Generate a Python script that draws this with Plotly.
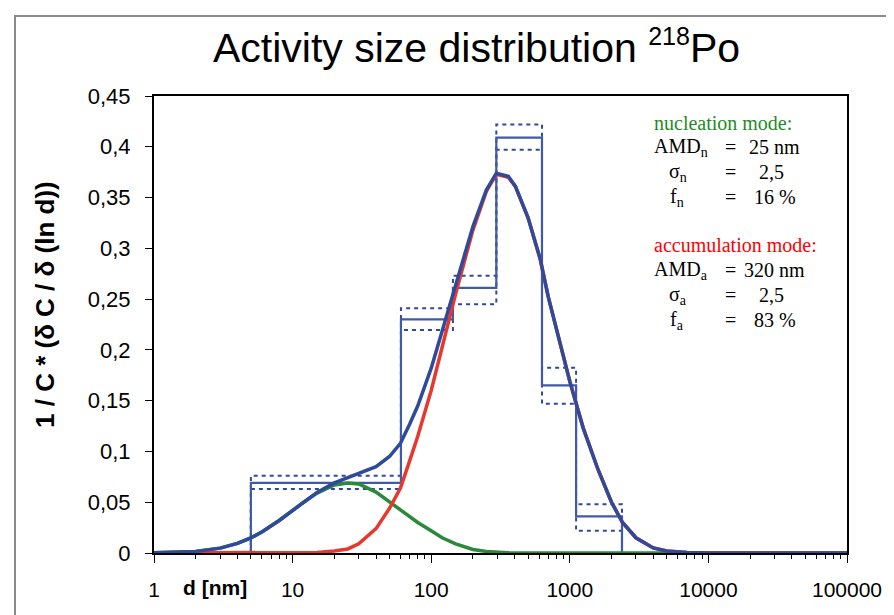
import plotly.graph_objects as go

# ---- data ----
d_nm = [1, 1.5, 2, 3, 4, 5, 6, 8, 10, 12,
        15, 20, 25, 30, 40, 50, 60, 70, 80, 100,
        120, 150, 180, 200, 250, 295, 360, 405, 500, 610,
        700, 850, 1000, 1250, 1600, 2000, 2400, 3000, 4000, 5000,
        7000, 10000, 100000]

nucleation = [0.0002, 0.0006, 0.0016, 0.0048, 0.0094, 0.0149, 0.0207, 0.032, 0.042, 0.050,
              0.059, 0.067, 0.069, 0.068, 0.060, 0.050, 0.042, 0.036, 0.030, 0.022,
              0.015, 0.009, 0.005, 0.0035, 0.0015, 0.0007, 0.0002, 0.0001, 0, 0,
              0, 0, 0, 0, 0, 0, 0, 0, 0, 0,
              0, 0, 0]

accumulation = [0, 0, 0, 0, 0, 0, 0, 0, 0.0001, 0.0002,
                0.0006, 0.002, 0.004, 0.009, 0.024, 0.044, 0.064, 0.091, 0.115, 0.160,
                0.203, 0.255, 0.295, 0.318, 0.356, 0.373, 0.370, 0.361, 0.330, 0.290,
                0.252, 0.205, 0.169, 0.123, 0.082, 0.050, 0.030, 0.015, 0.005, 0.002,
                0.0005, 0, 0]

total = [0.0002, 0.0006, 0.0016, 0.0048, 0.0094, 0.0149, 0.0207, 0.032, 0.0421, 0.0502,
         0.0596, 0.069, 0.074, 0.078, 0.085, 0.095, 0.108, 0.127, 0.145, 0.182,
         0.218, 0.264, 0.300, 0.3215, 0.3575, 0.374, 0.371, 0.361, 0.330, 0.290,
         0.252, 0.205, 0.169, 0.123, 0.082, 0.050, 0.030, 0.015, 0.005, 0.002,
         0.0005, 0, 0]

bin_edges = [5, 60.5, 143.5, 295, 630, 1110, 2380]
hist_value = [0.069, 0.230, 0.261, 0.409, 0.165, 0.036]
hist_upper = [0.076, 0.241, 0.273, 0.422, 0.1825, 0.048]
hist_lower = [0.063, 0.2195, 0.245, 0.397, 0.147, 0.022]

x_tickvals = [1, 10, 100, 1000, 10000, 100000]
x_ticktext = ["1", "10", "100", "1000", "10000", "100000"]

BLUE = "#2f4a9a"
BLUE_H = "#3f5aa6"
RED = "#e5392f"
GREEN = "#2b8a3a"


def step_xy(edges, vals):
    xs = [edges[0]] + list(edges[:-1]) + [edges[-1], edges[-1]]
    ys = [0] + list(vals) + [vals[-1], 0]
    return xs, ys


fig = go.Figure()

# histogram: error bounds (dotted) and measured value (solid)
for vals in (hist_upper, hist_lower):
    xs, ys = step_xy(bin_edges, vals)
    fig.add_trace(go.Scatter(x=xs, y=ys, mode="lines", line_shape="hv",
                             line=dict(color=BLUE, width=2, dash="4px,4px"),
                             showlegend=False, hoverinfo="skip"))
xs, ys = step_xy(bin_edges, hist_value)
fig.add_trace(go.Scatter(x=xs, y=ys, mode="lines", line_shape="hv",
                         line=dict(color=BLUE_H, width=2.2),
                         showlegend=False, hoverinfo="skip"))

# fitted modes
fig.add_trace(go.Scatter(x=d_nm, y=nucleation, mode="lines",
                         line=dict(color=GREEN, width=3.5), showlegend=False))
fig.add_trace(go.Scatter(x=d_nm, y=accumulation, mode="lines",
                         line=dict(color=RED, width=3.5), showlegend=False))
fig.add_trace(go.Scatter(x=d_nm, y=total, mode="lines",
                         line=dict(color=BLUE, width=3.5), showlegend=False))

# page has an 8px body margin -> figure is offset by OFF px
OFF = 8
W, H = 886, 607
L, R, T, B = 146, 47, 88, 62
pw, ph = W - L - R, H - T - B


def px(xr):
    return (xr - OFF - L) / pw


def py(yr):
    return (H - B - (yr - OFF)) / ph


SANS = "Liberation Sans, Arial, sans-serif"
fig.update_layout(
    width=W, height=H,
    margin=dict(l=L, r=R, t=T, b=B),
    paper_bgcolor="white", plot_bgcolor="white",
    separators=", ",
    font=dict(family=SANS, color="black"),
    showlegend=False,
)

fig.update_xaxes(
    type="log", range=[0, 5],
    tickvals=x_tickvals, ticktext=x_ticktext,
    ticks="outside", ticklen=8, tickwidth=1, tickcolor="black",
    tickfont=dict(size=21, family=SANS),
    ticklabelstandoff=9,
    minor=dict(ticks="outside", ticklen=4, tickwidth=1, tickcolor="black", dtick="D1", showgrid=False),
    showline=True, linecolor="black", linewidth=2, mirror=True,
    showgrid=False, zeroline=False,
)
fig.update_yaxes(
    range=[0, 0.45], dtick=0.05, tick0=0,
    ticks="outside", ticklen=7, tickwidth=1, tickcolor="black",
    tickfont=dict(size=22, family=SANS),
    ticklabelstandoff=10,
    showline=True, linecolor="black", linewidth=2, mirror=True,
    showgrid=False, zeroline=False,
)

ann = []
# title
ann.append(dict(text="Activity size distribution <sup><span style='font-size:25px'>218</span></sup>Po",
                x=px(476), y=py(46),
                xref="paper", yref="paper", xanchor="center", yanchor="middle",
                showarrow=False, font=dict(size=41, family=SANS)))
# y title
ann.append(dict(text="<b>1 / C * (δ C / δ (ln d))</b>", x=px(45), y=py(305),
                xref="paper", yref="paper", xanchor="center", yanchor="middle", textangle=-90,
                showarrow=False, font=dict(size=26, family=SANS)))
# x title
ann.append(dict(text="<b>d [nm]</b>", x=px(215), y=py(587),
                xref="paper", yref="paper", xanchor="center", yanchor="middle",
                showarrow=False, font=dict(size=21, family=SANS)))

serif = "Liberation Serif, Times New Roman, serif"
rows = [
    (123, "nucleation mode:", None, None, "#1f8a1f", 652, None),
    (147, "AMD<sub>n</sub>", "=", "25 nm", "black", 652, 747),
    (172, "σ<sub>n</sub>", "=", "2,5", "black", 667, 757),
    (197, "f<sub>n</sub>", "=", "16 %", "black", 668, 752),
    (245, "accumulation mode:", None, None, "#ff0000", 652, None),
    (270, "AMD<sub>a</sub>", "=", "320 nm", "black", 652, 742),
    (295, "σ<sub>a</sub>", "=", "2,5", "black", 667, 757),
    (320, "f<sub>a</sub>", "=", "83 %", "black", 668, 752),
]
for yy, lab, eq, val, col, xl, xv in rows:
    ann.append(dict(text=lab, x=px(xl), y=py(yy), xref="paper", yref="paper",
                    xanchor="left", yanchor="middle", showarrow=False,
                    font=dict(size=20, family=serif, color=col)))
    if eq:
        ann.append(dict(text=eq, x=px(730), y=py(yy), xref="paper", yref="paper",
                        xanchor="center", yanchor="middle", showarrow=False,
                        font=dict(size=20, family=serif, color=col)))
        ann.append(dict(text=val, x=px(xv), y=py(yy), xref="paper", yref="paper",
                        xanchor="left", yanchor="middle", showarrow=False,
                        font=dict(size=20, family=serif, color=col)))
fig.update_layout(annotations=ann)

# outer chart-area border (gray), extends beyond the picture on right/bottom
fig.add_shape(type="rect", xref="paper", yref="paper",
              x0=px(15), y0=py(660), x1=px(940), y1=py(16),
              line=dict(color="#8a8a8a", width=2), fillcolor="rgba(0,0,0,0)", layer="below")

fig.write_html("out.html")
